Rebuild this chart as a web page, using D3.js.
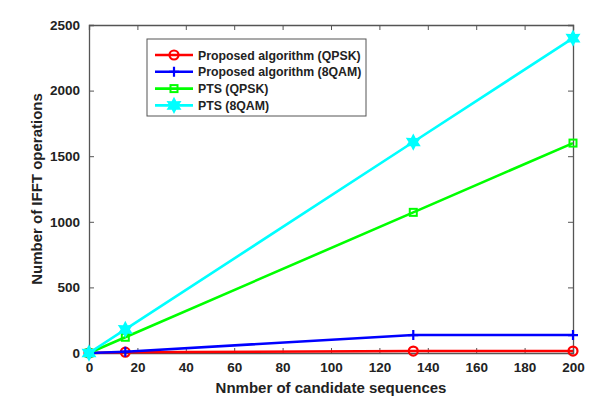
<!DOCTYPE html>
<html>
<head>
<meta charset="utf-8">
<script src="https://cdn.jsdelivr.net/npm/d3@7"></script>
<style>
  body { margin: 0; background: #fff; }
  text { font-family: "Liberation Sans", Arial, sans-serif; font-weight: bold; fill: #222; }
</style>
</head>
<body>
<svg id="chart"></svg>
<script>
    // Data
    const xValues = [0, 15, 134, 200];
    const propQpsk = [0, 6, 15, 15];
    const prop8qam = [0, 10, 137, 137];
    const ptsQpsk = [0, 120, 1072, 1600];
    const pts8qam = [0, 180, 1608, 2400];
    const seriesNames = ["Proposed algorithm (QPSK)", "Proposed algorithm (8QAM)", "PTS (QPSK)", "PTS (8QAM)"];
    const xTicks = [0, 20, 40, 60, 80, 100, 120, 140, 160, 180, 200];
    const yTicks = [0, 500, 1000, 1500, 2000, 2500];

    const series = [
      { name: seriesNames[0], values: propQpsk, color: "#ff0000", marker: "circle" },
      { name: seriesNames[1], values: prop8qam, color: "#0000ff", marker: "plus" },
      { name: seriesNames[2], values: ptsQpsk, color: "#00ff00", marker: "square" },
      { name: seriesNames[3], values: pts8qam, color: "#00ffff", marker: "star" }
    ];

    const W = 608, H = 403;
    const margin = { top: 25, right: 35, bottom: 50, left: 89 },
          width = W - margin.left - margin.right,
          height = H - margin.top - margin.bottom;

    const root = d3.select("#chart").attr("width", W).attr("height", H);
    const svg = root.append("g")
      .attr("transform", `translate(${margin.left},${margin.top})`);

    const x = d3.scaleLinear().domain([0, 200]).range([0, width]);
    const y = d3.scaleLinear().domain([0, 2500]).range([height, 0]);

    const axisColor = "#555";
    const fmt = d3.format("d");

    // Axes: ticks inside, MATLAB style box
    svg.append("g")
      .attr("transform", `translate(0,${height})`)
      .call(d3.axisBottom(x).tickValues(xTicks).tickFormat(fmt).tickSize(-5).tickPadding(9));
    svg.append("g")
      .call(d3.axisLeft(y).tickValues(yTicks).tickFormat(fmt).tickSize(-5).tickPadding(9));
    svg.append("g")
      .call(d3.axisTop(x).tickValues(xTicks).tickSize(-5).tickFormat(""));
    svg.append("g")
      .attr("transform", `translate(${width},0)`)
      .call(d3.axisRight(y).tickValues(yTicks).tickSize(-5).tickFormat(""));

    svg.selectAll(".domain").attr("stroke", axisColor).attr("stroke-width", 1.3);
    svg.selectAll(".tick line").attr("stroke", axisColor);
    svg.selectAll(".tick text")
      .style("font-family", "'Liberation Sans', Arial, sans-serif")
      .style("font-weight", "bold")
      .style("font-size", "13.5px")
      .attr("fill", "#222");

    // Axis titles
    svg.append("text")
      .attr("x", width / 2)
      .attr("y", height + 40)
      .attr("text-anchor", "middle")
      .style("font-size", "15px")
      .text("Nnmber of candidate sequences");

    svg.append("text")
      .attr("transform", `translate(${-47},${height / 2}) rotate(-90)`)
      .attr("text-anchor", "middle")
      .style("font-size", "15px")
      .text("Number of IFFT operations");

    // Marker drawing
    function drawMarker(g, type, color, cx, cy) {
      if (type === "circle") {
        g.append("circle").attr("cx", cx).attr("cy", cy).attr("r", 4.5)
          .attr("fill", "none").attr("stroke", color).attr("stroke-width", 2.2);
      } else if (type === "plus") {
        g.append("path").attr("d", `M${cx - 5},${cy}H${cx + 5}M${cx},${cy - 5}V${cy + 5}`)
          .attr("stroke", color).attr("stroke-width", 2.2);
      } else if (type === "square") {
        g.append("rect").attr("x", cx - 3.5).attr("y", cy - 3.5).attr("width", 7).attr("height", 7)
          .attr("fill", "none").attr("stroke", color).attr("stroke-width", 2);
      } else if (type === "star") {
        const pts = [];
        for (let i = 0; i < 12; i++) {
          const r = i % 2 === 0 ? 7 : 3.8;
          const a = -Math.PI / 2 + i * Math.PI / 6;
          pts.push([cx + r * Math.cos(a), cy + r * Math.sin(a)]);
        }
        g.append("path").attr("d", "M" + pts.join("L") + "Z")
          .attr("fill", color).attr("stroke", color).attr("stroke-width", 1.5);
      }
    }

    const line = d3.line()
      .x((d, i) => x(xValues[i]))
      .y(d => y(d));

    series.forEach(s => {
      const g = svg.append("g");
      g.append("path")
        .datum(s.values)
        .attr("fill", "none")
        .attr("stroke", s.color)
        .attr("stroke-width", 2.6)
        .attr("d", line);
      s.values.forEach((v, i) => drawMarker(g, s.marker, s.color, x(xValues[i]), y(v)));
    });

    // Legend
    const legend = root.append("g").attr("transform", "translate(147,39)");
    legend.append("rect")
      .attr("width", 219).attr("height", 77)
      .attr("fill", "#fff").attr("stroke", axisColor).attr("stroke-width", 1);
    series.forEach((s, i) => {
      const ly = 16 + i * 16.8;
      legend.append("line")
        .attr("x1", 8).attr("x2", 46).attr("y1", ly).attr("y2", ly)
        .attr("stroke", s.color).attr("stroke-width", 2.6);
      drawMarker(legend, s.marker, s.color, 27, ly);
      legend.append("text")
        .attr("x", 51).attr("y", ly + 4.5)
        .style("font-size", "12.3px")
        .text(s.name);
    });
</script>
</body>
</html>
